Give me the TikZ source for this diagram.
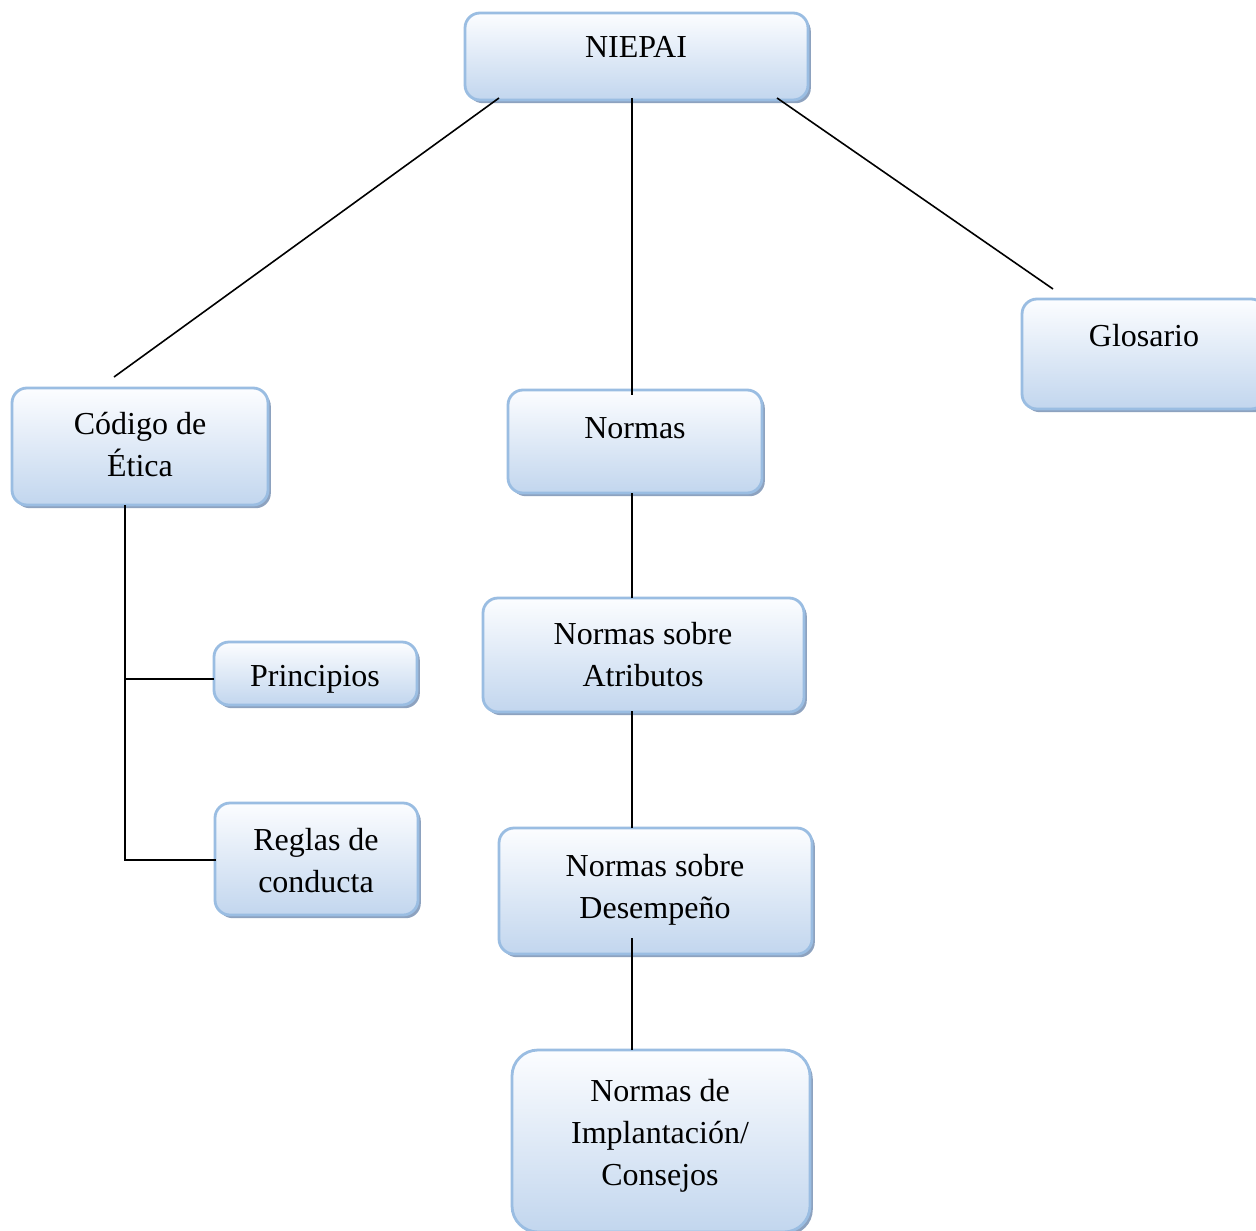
\documentclass[tikz,border=0pt]{standalone}
\usepackage{fontspec}
\setmainfont{Liberation Serif}
\usetikzlibrary{shadows}
\definecolor{boxtop}{HTML}{FCFDFF}
\definecolor{boxmid}{HTML}{E4ECF7}
\definecolor{boxbot}{HTML}{C2D6EE}
\definecolor{boxline}{HTML}{9ABDE2}
\definecolor{boxshade}{HTML}{8DA2BF}
\begin{document}
\begin{tikzpicture}[x=0.5pt,y=-0.5pt,
  box/.style={draw=boxline, line width=1.4pt, rounded corners=7.5pt,
    top color=boxtop, middle color=boxmid, bottom color=boxbot, inner sep=0pt,
    drop shadow={shadow xshift=1.4pt, shadow yshift=-1.6pt, fill=boxshade, opacity=1}},
  bigbox/.style={box, rounded corners=13pt},
  lbl/.style={font=\fontsize{16}{21}\selectfont, align=center, inner sep=0pt},
  link/.style={draw=black, line width=0.8pt}]
\clip (0,0) rectangle (1256,1230);
\fill[white] (0,0) rectangle (1256,1230);

% boxes
\node[box, minimum width=171.5pt, minimum height=43.5pt] (niepai) at (636.5,56.5) {};
\node[box, minimum width=128pt, minimum height=58.5pt] (codigo) at (140,446.5) {};
\node[box, minimum width=127pt, minimum height=51.5pt] (normas) at (635,441.5) {};
\node[box, minimum width=122pt, minimum height=55pt] (glosario) at (1144,354) {};
\node[box, minimum width=101.5pt, minimum height=31.5pt] (principios) at (315.5,673.5) {};
\node[box, minimum width=101.5pt, minimum height=56pt] (reglas) at (316.5,859) {};
\node[box, minimum width=160.5pt, minimum height=57pt] (atributos) at (643.5,655) {};
\node[box, minimum width=156.5pt, minimum height=63pt] (desempeno) at (655.5,891) {};
\node[bigbox, minimum width=149pt, minimum height=91pt] (implant) at (661,1141) {};

% texts
\node[lbl] (niepai-t) at (636,47) {NIEPAI};
\node[lbl] (codigo-t) at (140,445) {Código de\\Ética};
\node[lbl] (normas-t) at (635,428) {Normas};
\node[lbl] (glosario-t) at (1144,336) {Glosario};
\node[lbl] (principios-t) at (315,679) {Principios};
\node[lbl] (reglas-t) at (316,861) {Reglas de\\conducta};
\node[lbl] (atributos-t) at (643,655) {Normas sobre\\Atributos};
\node[lbl] (desempeno-t) at (655,890) {Normas sobre\\Desempeño};
\node[lbl] (implant-t) at (660,1136) {Normas de\\Implantación/\\Consejos};

% connector end points
\coordinate (n-l) at (499,98);
\coordinate (n-m) at (632,98);
\coordinate (n-r) at (777,98);
\coordinate (c-top) at (114,377);
\coordinate (m-top) at (632,395);
\coordinate (g-top) at (1053,289);
\coordinate (c-bot) at (125,505);
\coordinate (c-mid) at (125,679);
\coordinate (c-end) at (125,860);
\coordinate (p-in) at (214,679);
\coordinate (r-in) at (216,860);
\coordinate (nm-bot) at (632,493);
\coordinate (at-top) at (632,598);
\coordinate (at-bot) at (632,711);
\coordinate (de-top) at (632,828);
\coordinate (de-bot) at (632,938);
\coordinate (im-top) at (632,1050);

% connectors
\draw[link] (n-l) -- (c-top);
\draw[link] (n-m) -- (m-top);
\draw[link] (n-r) -- (g-top);
\draw[link] (c-bot) -- (c-end) -- (r-in);
\draw[link] (c-mid) -- (p-in);
\draw[link] (nm-bot) -- (at-top);
\draw[link] (at-bot) -- (de-top);
\draw[link] (de-bot) -- (im-top);
\end{tikzpicture}
\end{document}
